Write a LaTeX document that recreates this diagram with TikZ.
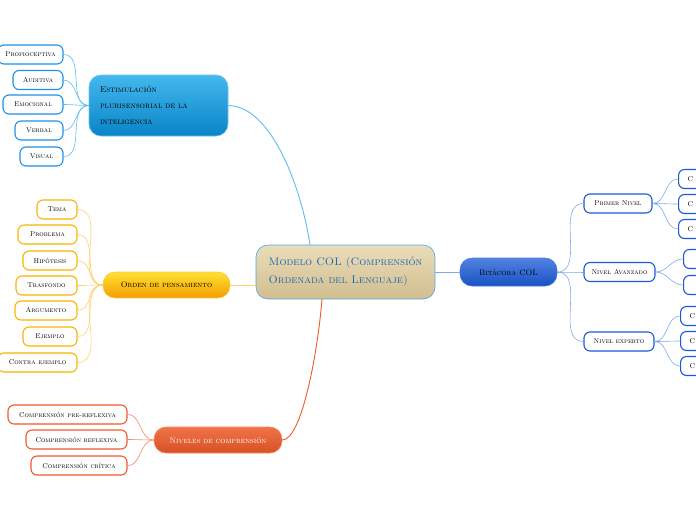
\documentclass[tikz,border=0pt]{standalone}
\usepackage{tikz}
\usetikzlibrary{positioning,calc}
\definecolor{azulcl}{HTML}{1E90E8}
\definecolor{lineaazul}{HTML}{5CBDF2}
\definecolor{oro}{HTML}{F8B400}
\definecolor{lineaoro}{HTML}{FCD070}
\definecolor{naranja}{HTML}{EF5A28}
\definecolor{lineanar}{HTML}{F58A62}
\definecolor{azulos}{HTML}{1A5AD8}
\definecolor{lineaazos}{HTML}{7FA8F0}
\definecolor{textoazul}{HTML}{1A66B8}
\definecolor{arenasup}{HTML}{EADDBA}
\definecolor{arenainf}{HTML}{D2BE8E}
\definecolor{cielosup}{HTML}{44B8EE}
\definecolor{cieloinf}{HTML}{0884C6}

\begin{document}
\begin{tikzpicture}[x=1pt,y=-1pt,
  every node/.style={font=\fontsize{7}{8}\selectfont\scshape},
  hoja/.style={draw,line width=1.1pt,fill=white,rounded corners=6pt,minimum height=19pt,inner sep=0pt},
  tema/.style={draw,line width=0.6pt,rounded corners=12pt,inner sep=0pt},
  rama/.style={line width=0.9pt}]
  \useasboundingbox (0,0) rectangle (696,520);
  \clip (0,0) rectangle (696,520);
  % 中心
  \node[tema,draw=azulcl!80,top color=arenasup,bottom color=arenainf,minimum width=179pt,minimum height=54pt,
        align=left,text=textoazul,font=\fontsize{11}{18}\selectfont\scshape] (ctr) at (345.5,272)
        {Modelo COL (Comprensión\\Ordenada del Lenguaje)};
  % 主题
  \node[tema,draw=cielosup!80,top color=cielosup,bottom color=cieloinf,minimum width=139pt,minimum height=61pt,
        text width=117pt,align=left,font=\fontsize{8.5}{16}\selectfont\scshape] (est) at (158.5,105.5)
        {Estimulación\\plurisensorial de la\\inteligencia};
  \node[tema,draw=oro!70,top color=yellow!70!orange!80,bottom color=orange!70!yellow!95!black,minimum width=127pt,minimum height=26pt,
        font=\fontsize{8}{9}\selectfont\scshape] (ord) at (166.5,285) {Orden de pensamiento};
  \node[tema,draw=naranja!70,top color=naranja!85,bottom color=naranja!90!black,minimum width=128pt,minimum height=26pt,
        text=white,font=\fontsize{8}{9}\selectfont\scshape] (niv) at (218,440) {Niveles de comprensión};
  \node[tema,draw=azulos!80,top color=azulos!75,bottom color=azulos!90!black,minimum width=97pt,minimum height=28pt,
        font=\fontsize{8}{9}\selectfont\scshape] (bit) at (508.5,272) {Bitácora COL};
  % 主干
  \draw[rama,lineaazul] (est.east) .. controls (272,106) and (302,190) .. (310,245);
  \draw[rama,lineaoro] (ord.east) -- (ord.east -| ctr.west);
  \draw[rama,naranja] (niv.east) .. controls (302,440) and (318,350) .. (322,299);
  \draw[rama,lineaazos] (ctr.east) -- (bit.west);
  % 左上
  \foreach \n/\x/\w/\y/\t in {prop/30.5/65/54.5/Propioceptiva, aud/38/50/80/Auditiva, emo/33/60/104.5/Emocional,
                              verb/39/48/130.5/Verbal, vis/41.5/43/156.5/Visual} {
    \node[hoja,draw=azulcl,minimum width=\w pt] (\n) at (\x,\y) {\t};
    \draw[rama,lineaazul,line width=0.6pt] (est.west) to[out=180,in=0] (\n.east);
  }
  % 左中
  \foreach \n/\x/\w/\y/\t in {tem/57/40/209.5/Tema, prob/47.5/59/234.5/Problema, hip/50/54/260.5/Hipótesis,
                              tras/46.5/61/285.5/Trasfondo, arg/46/62/310.5/Argumento, ejem/50/54/336.5/Ejemplo,
                              contra/37.5/79/362.5/Contra ejemplo} {
    \node[hoja,draw=oro,minimum width=\w pt] (\n) at (\x,\y) {\t};
    \draw[rama,lineaoro,line width=0.6pt] (ord.west) to[out=180,in=0] (\n.east);
  }
  % 左下
  \foreach \n/\x/\w/\y/\t in {pre/67.5/119/414.5/Comprensión pre-reflexiva, refl/76.5/101/439.5/Comprensión reflexiva,
                              crit/79/96/465.5/Comprensión crítica} {
    \node[hoja,draw=naranja,minimum width=\w pt] (\n) at (\x,\y) {\t};
    \draw[rama,lineanar,line width=0.6pt] (niv.west) to[out=180,in=0] (\n.east);
  }
  % 右
  \foreach \n/\x/\w/\y/\t in {pri/618/68/203.5/Primer Nivel, ava/619.5/71/272/Nivel Avanzado, exp/619/70/341.5/Nivel experto} {
    \node[hoja,draw=azulos,minimum width=\w pt] (\n) at (\x,\y) {\t};
    \draw[rama,lineaazos,line width=0.6pt] (bit.east) to[out=0,in=180] (\n.west);
  }
  \foreach \p/\x/\y/\t in {pri/678/179/C, pri/678/204/C, pri/678/229/C, ava/683/259/, ava/683/285/,
                           exp/680/316/C, exp/680/341/C, exp/680/366/C} {
    \node[hoja,draw=azulos,anchor=west,text width=64pt,inner xsep=9pt,align=left] (g\y) at (\x,\y) {\t};
    \draw[rama,lineaazos,line width=0.6pt] (\p.east) to[out=0,in=180] (g\y.west);
  }
\end{tikzpicture}
\end{document}
